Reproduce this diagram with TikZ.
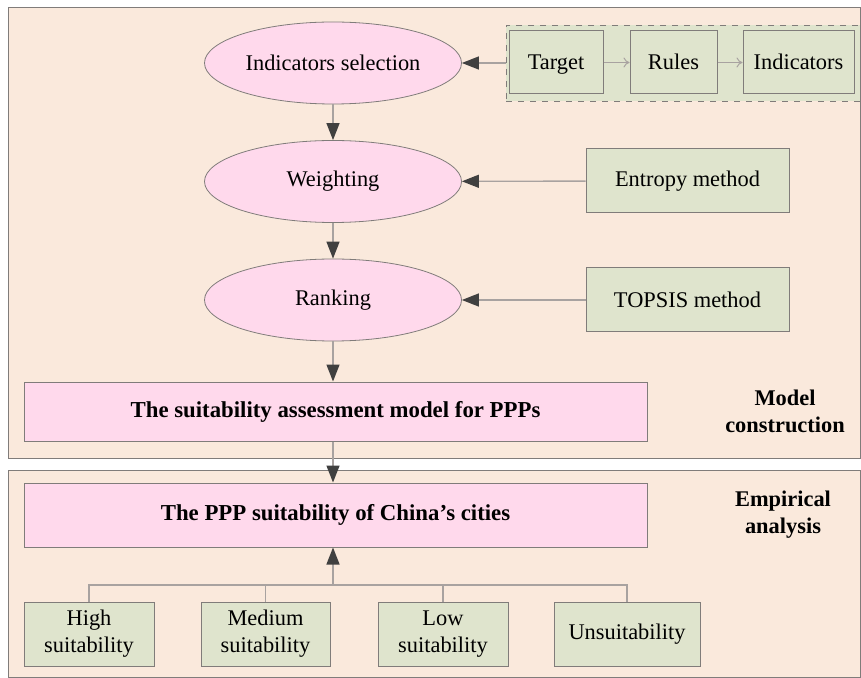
\documentclass[tikz,border=0pt]{standalone}
\usepackage{fontspec}
\setmainfont{Liberation Serif}
\usetikzlibrary{shapes.geometric,arrows.meta,positioning}
\definecolor{panelbg}{RGB}{250,233,220}
\definecolor{stagefill}{RGB}{255,217,236}
\definecolor{methodfill}{RGB}{223,228,205}
\definecolor{edgegray}{RGB}{128,124,122}
\definecolor{linegray}{RGB}{168,162,160}
\definecolor{headgray}{RGB}{64,64,64}

\begin{document}
\begin{tikzpicture}[x=0.5pt,y=-0.5pt,
    font=\fontsize{11.2}{13.5}\selectfont,
    panel/.style={draw=edgegray,fill=panelbg,line width=0.5pt},
    stage/.style={ellipse,draw=edgegray,fill=stagefill,line width=0.4pt,
        minimum width=128.5pt,minimum height=41pt,inner sep=0pt},
    outcome/.style={draw=edgegray,fill=stagefill,line width=0.5pt,
        minimum width=311.5pt,font=\fontsize{11.4}{13.5}\selectfont\bfseries},
    method/.style={draw=edgegray,fill=methodfill,line width=0.5pt,
        minimum height=32pt,align=center,inner sep=1pt},
    link/.style={method,minimum height=31.5pt,text height=1.5ex,text depth=0pt},
    phase/.style={align=center,font=\fontsize{11.2}{13.5}\selectfont\bfseries},
    flow/.style={draw=linegray,line width=0.7pt,
        -{Triangle[length=8.5pt,width=6.5pt,color=headgray]}},
    chain/.style={draw=linegray,line width=0.5pt,-{To[length=3pt,width=5pt]}},
    bus/.style={draw=linegray,line width=0.6pt}]
    \useasboundingbox (0,0) rectangle (861,678);
    \path[panel] (8,8) rectangle (860,458);
    \path[panel] (8,470) rectangle (860,677);

    \node[stage] (select) at (333,63) {Indicators selection};
    \node[stage] (weight) at (333,181.5) {Weighting};
    \node[stage] (rank) at (333,300) {Ranking};

    \node[draw=edgegray,dashed,fill=methodfill,minimum width=177pt,minimum height=38pt] (group) at (683,63) {};
    \node[link,minimum width=47pt] (target) at (556,62.5) {Target};
    \node[link,minimum width=43.5pt] (rules) at (673.5,62.5) {Rules};
    \node[link,minimum width=55.5pt] (indic) at (798.5,62.5) {Indicators};
    \node[method,minimum width=101.5pt] (entropy) at (687.5,181) {Entropy method};
    \node[method,minimum width=101.5pt] (topsis) at (687.5,300) {TOPSIS method};

    \node[outcome,minimum height=29.5pt] (model) at (335.5,411.5) {The suitability assessment model for PPPs};
    \node[outcome,minimum height=32pt] (city) at (335.5,515) {The PPP suitability of China’s cities};

    \node[phase] (build) at (785,411) {Model\\construction};
    \node[phase] (empiric) at (783,515) {Empirical\\analysis};

    \node[method,minimum width=65pt] (high) at (89,634) {High\\suitability};
    \node[method,minimum width=64.5pt] (medium) at (265.5,634) {Medium\\suitability};
    \node[method,minimum width=65pt] (low) at (443,634) {Low\\suitability};
    \node[method,minimum width=73pt] (unsuit) at (627,634) {Unsuitability};

    \draw[chain] (target) -- (rules);
    \draw[chain] (rules) -- (indic);
    \draw[flow] (group.west) -- (select.east);
    \draw[flow] (entropy) -- (weight);
    \draw[flow] (topsis) -- (rank);
    \draw[flow] (select) -- (weight);
    \draw[flow] (weight) -- (rank);
    \draw[flow] (rank.south) -- (rank.south |- model.north);
    \draw[flow] (rank.south |- model.south) -- (rank.south |- city.north);

    \coordinate (hub) at (333,585);
    \draw[bus] (high.north) |- (hub) -| (unsuit.north);
    \draw[bus] (medium.north) -- (medium.north |- hub);
    \draw[bus] (low.north) -- (low.north |- hub);
    \draw[flow] (hub) -- (hub |- city.south);
\end{tikzpicture}
\end{document}
